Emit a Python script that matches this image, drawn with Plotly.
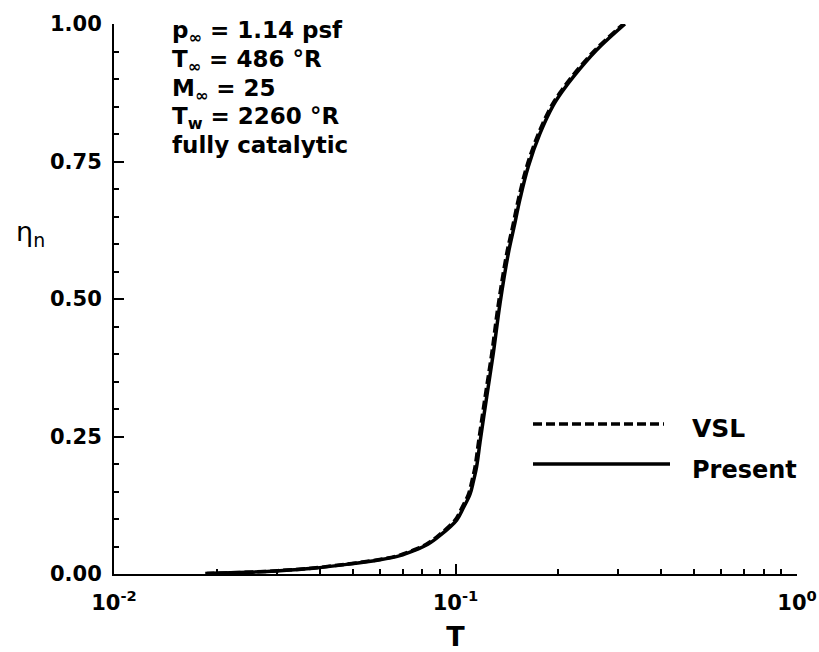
import plotly.graph_objects as go

# ---- data ----
T_present = [0.0187, 0.0245, 0.0306, 0.0383, 0.0480, 0.0601, 0.0688, 0.0752, 0.0830, 0.0901,
             0.1008, 0.1054, 0.1103, 0.1128, 0.1153, 0.1180, 0.1234, 0.1290, 0.1350, 0.1428,
             0.1483, 0.1545, 0.1633, 0.1768, 0.1933, 0.2069, 0.2213, 0.2590, 0.3134]
eta_present = [0.001, 0.003, 0.006, 0.0105, 0.0175, 0.0260, 0.0335, 0.0420, 0.0540, 0.070,
               0.098, 0.120, 0.145, 0.168, 0.195, 0.240, 0.322, 0.401, 0.492, 0.583,
               0.630, 0.682, 0.7406, 0.801, 0.852, 0.880, 0.904, 0.9527, 1.000]

T_vsl = [0.0185, 0.0242, 0.0302, 0.0378, 0.0474, 0.0594, 0.0680, 0.0743, 0.0821, 0.0891,
         0.0997, 0.1043, 0.1091, 0.1116, 0.1141, 0.1168, 0.1221, 0.1277, 0.1336, 0.1413,
         0.1468, 0.1529, 0.1616, 0.1750, 0.1913, 0.2049, 0.2190, 0.2563, 0.3102]
eta_vsl = [0.001, 0.003, 0.006, 0.0105, 0.0175, 0.0260, 0.0335, 0.0420, 0.0540, 0.070,
           0.098, 0.120, 0.145, 0.168, 0.195, 0.240, 0.322, 0.401, 0.492, 0.583,
           0.630, 0.682, 0.7406, 0.801, 0.852, 0.880, 0.904, 0.9527, 1.000]

x_tickvals = [0.01, 0.1, 1.0]
x_ticktext = ["10<sup>-2</sup>", "10<sup>-1</sup>", "10<sup>0</sup>"]
x_minor = [m * d for d in (0.01, 0.1) for m in range(2, 10)]
y_tickvals = [0.0, 0.25, 0.5, 0.75, 1.0]

conditions = ["p<sub>∞</sub> = 1.14 psf", "T<sub>∞</sub> = 486 °R", "M<sub>∞</sub> = 25",
              "T<sub>w</sub> = 2260 °R", "fully catalytic"]

FONT = "DejaVu Sans"

fig = go.Figure()
fig.add_trace(go.Scatter(x=T_vsl, y=eta_vsl, mode="lines", name="VSL",
                         line=dict(color="black", width=3.5, dash="9px,4px", shape="spline",
                                   smoothing=1),
                         showlegend=False))
fig.add_trace(go.Scatter(x=T_present, y=eta_present, mode="lines", name="Present",
                         line=dict(color="black", width=3.5, shape="spline", smoothing=1),
                         showlegend=False))

W, H = 819, 652
L, R, TOP, BOT = 114, 22, 24, 78
pw, ph = W - L - R, H - TOP - BOT

def px(x):
    return (x - L) / pw

def py(y):
    return (H - BOT - y) / ph

fig.update_layout(
    width=W, height=H,
    margin=dict(l=L, r=R, t=TOP, b=BOT, pad=0, autoexpand=False),
    plot_bgcolor="white", paper_bgcolor="white",
    font=dict(family=FONT, color="black"),
    xaxis=dict(type="log", range=[-2, 0], showgrid=False, zeroline=False, automargin=False,
               showline=True, linecolor="black", linewidth=2,
               tickmode="array", tickvals=x_tickvals, ticktext=x_ticktext,
               ticks="inside", ticklen=10, tickwidth=2, tickcolor="black",
               tickfont=dict(family=FONT, size=21, color="black", weight="bold"),
               ticklabelstandoff=9,
               minor=dict(tickmode="array", tickvals=x_minor, ticks="inside",
                          ticklen=5, tickwidth=1.5, tickcolor="black", showgrid=False),
               title=dict(text="<b>T</b>", font=dict(family=FONT, size=27, color="black"),
                          standoff=13)),
    yaxis=dict(range=[0, 1], showgrid=False, zeroline=False, automargin=False,
               showline=True, linecolor="black", linewidth=2,
               tickmode="array", tickvals=y_tickvals, tickformat=".2f",
               ticks="inside", ticklen=10, tickwidth=2, tickcolor="black",
               tickfont=dict(family=FONT, size=21, color="black", weight="bold"),
               minor=dict(dtick=0.05, tick0=0, ticks="inside", ticklen=5,
                          tickwidth=1.5, tickcolor="black", showgrid=False),
               ticklabelstandoff=6),
)

# y axis label (horizontal)
fig.add_annotation(xref="paper", yref="paper", x=px(30), y=py(233),
                   text="η<sub>n</sub>", showarrow=False,
                   font=dict(family=FONT, size=27, color="black"),
                   xanchor="center", yanchor="middle")

# condition text block, one line per annotation
line_tops = [15, 44, 73, 101, 130]
for txt, top in zip(conditions, line_tops):
    fig.add_annotation(xref="paper", yref="paper", x=px(170), y=py(top),
                       text=txt, showarrow=False, align="left",
                       font=dict(family=FONT, size=23, color="black", weight="bold"),
                       xanchor="left", yanchor="top")

# legend (drawn in paper space)
fig.add_shape(type="line", xref="paper", yref="paper", x0=px(533), x1=px(664),
              y0=py(424), y1=py(424), line=dict(color="black", width=3.5, dash="9px,4px"))
fig.add_shape(type="line", xref="paper", yref="paper", x0=px(533), x1=px(670),
              y0=py(464), y1=py(464), line=dict(color="black", width=3.5))
fig.add_annotation(xref="paper", yref="paper", x=px(690), y=py(428), text="VSL",
                   showarrow=False, xanchor="left", yanchor="middle",
                   font=dict(family=FONT, size=25, color="black", weight="bold"))
fig.add_annotation(xref="paper", yref="paper", x=px(690), y=py(470), text="Present",
                   showarrow=False, xanchor="left", yanchor="middle",
                   font=dict(family=FONT, size=24, color="black", weight="bold"))

# remove the page's default body margin so the figure sits at the window corner
fig.write_html("out.html", config={"displayModeBar": False},
               post_script="document.body.style.margin='0px';document.body.style.overflow='hidden';")
